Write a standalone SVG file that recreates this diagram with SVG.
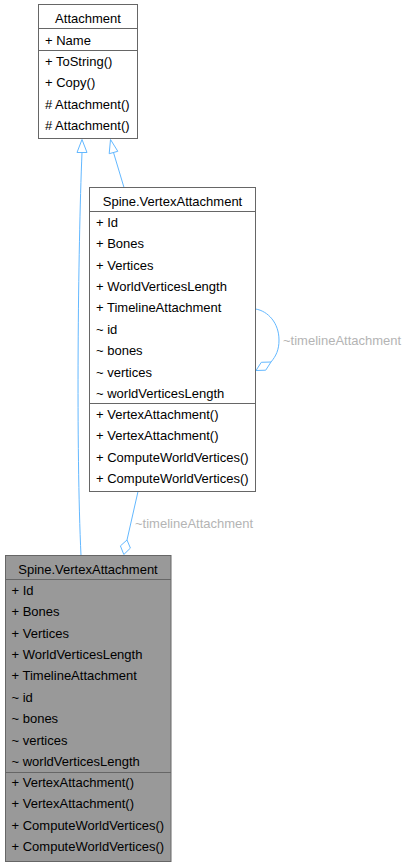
<svg xmlns="http://www.w3.org/2000/svg" width="409" height="865" viewBox="0 0 409 865">
<style>
.box{fill:#ffffff;stroke:#666666;stroke-width:1}
.hl{fill:#999999;stroke:#666666;stroke-width:1}
.sep{stroke:#666666;stroke-width:1;fill:none}
text{font-family:"Liberation Sans",Arial,sans-serif;font-size:13px;fill:#000000}
.c{text-anchor:middle}
.edge{fill:none;stroke:#63b8ff;stroke-width:1}
.head{fill:#ffffff;stroke:#63b8ff;stroke-width:1}
text.lbl{fill:#b4b4b4}
</style>
<rect width="409" height="865" fill="#ffffff"/>
<g id="edges">
<path class="edge" d="M82,152.5 C78,250 76,450 81,555.5"/>
<polygon class="head" points="82,139.5 77,152.5 87,152.5"/>
<path class="edge" d="M113.5,152.5 L124,187.5"/>
<polygon class="head" points="110.5,139.5 109.2,153.7 117.8,151.3"/>
<path class="edge" d="M138,491.5 L127,540"/>
<polygon class="head" points="127,540 120.4,545.9 123.8,554.5 130.4,548.1"/>
<text class="lbl" x="135" y="528">~timelineAttachment</text>
<path class="edge" d="M255.5,309 C268,311 279,323 279,340 C279,350 276,356 271,362"/>
<polygon class="head" points="256,370.5 261.3,362.3 271,362 265.7,370.2"/>
<text class="lbl" x="283" y="345">~timelineAttachment</text>
</g>
<g id="node_attachment">
<rect class="box" x="38.5" y="4.5" width="99" height="134"/>
<line class="sep" x1="38.5" y1="28.5" x2="137.5" y2="28.5"/>
<line class="sep" x1="38.5" y1="50.5" x2="137.5" y2="50.5"/>
<text class="c" x="88" y="23">Attachment</text>
<text x="45" y="44.5">+ Name</text>
<text x="45" y="65.7">+ ToString()</text>
<text x="45" y="87.2">+ Copy()</text>
<text x="45" y="108.6"># Attachment()</text>
<text x="45" y="129.9"># Attachment()</text>
</g>
<g id="node_vertex_base">
<rect class="box" x="89.5" y="187.5" width="166" height="304"/>
<line class="sep" x1="89.5" y1="211.5" x2="255.5" y2="211.5"/>
<line class="sep" x1="89.5" y1="403.5" x2="255.5" y2="403.5"/>
<text class="c" x="172.5" y="206">Spine.VertexAttachment</text>
<text x="96" y="226.8">+ Id</text>
<text x="96" y="248.2">+ Bones</text>
<text x="96" y="269.6">+ Vertices</text>
<text x="96" y="291">+ WorldVerticesLength</text>
<text x="96" y="312.4">+ TimelineAttachment</text>
<text x="96" y="333.8">~ id</text>
<text x="96" y="355.2">~ bones</text>
<text x="96" y="376.6">~ vertices</text>
<text x="96" y="398">~ worldVerticesLength</text>
<text x="96" y="418.8">+ VertexAttachment()</text>
<text x="96" y="440.2">+ VertexAttachment()</text>
<text x="96" y="461.6">+ ComputeWorldVertices()</text>
<text x="96" y="483">+ ComputeWorldVertices()</text>
</g>
<g id="node_vertex_main">
<rect class="hl" x="5.5" y="555.5" width="165.5" height="306"/>
<line class="sep" x1="5.5" y1="579.5" x2="171" y2="579.5"/>
<line class="sep" x1="5.5" y1="772.5" x2="171" y2="772.5"/>
<text class="c" x="88" y="574">Spine.VertexAttachment</text>
<text x="11.5" y="594.8">+ Id</text>
<text x="11.5" y="616.2">+ Bones</text>
<text x="11.5" y="637.6">+ Vertices</text>
<text x="11.5" y="659">+ WorldVerticesLength</text>
<text x="11.5" y="680.4">+ TimelineAttachment</text>
<text x="11.5" y="701.8">~ id</text>
<text x="11.5" y="723.2">~ bones</text>
<text x="11.5" y="744.6">~ vertices</text>
<text x="11.5" y="766">~ worldVerticesLength</text>
<text x="11.5" y="786.8">+ VertexAttachment()</text>
<text x="11.5" y="808.2">+ VertexAttachment()</text>
<text x="11.5" y="829.6">+ ComputeWorldVertices()</text>
<text x="11.5" y="851">+ ComputeWorldVertices()</text>
</g>
</svg>
